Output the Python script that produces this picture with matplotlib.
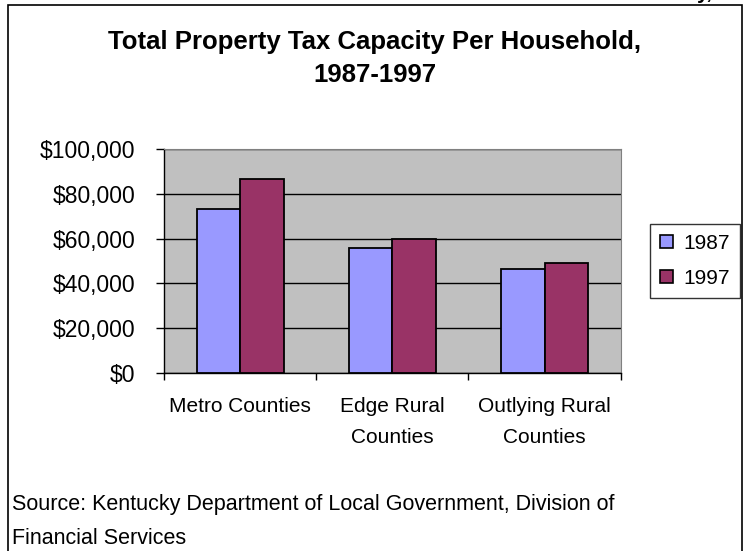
import matplotlib
matplotlib.use("Agg")
import matplotlib.pyplot as plt
from matplotlib.patches import Rectangle, Patch
import numpy as np

plt.rcParams['font.family'] = ['Liberation Sans', 'DejaVu Sans']

# data
categories = ["Metro Counties", "Edge Rural\nCounties", "Outlying Rural\nCounties"]
years = ["1987", "1997"]
val_1987 = [73000, 56000, 46300]
val_1997 = [86500, 59700, 49000]
yticks = [0, 20000, 40000, 60000, 80000, 100000]
ytick_labels = ["$0", "$20,000", "$40,000", "$60,000", "$80,000", "$100,000"]

col_1987 = "#9999FF"
col_1997 = "#993366"

W, H = 743, 551
fig = plt.figure(figsize=(W / 100, H / 100), dpi=100)

# outer chart border (bottom edge runs past the image)
fig.patches.append(Rectangle((8 / W, -0.05), (741.5 - 8) / W, 1.05 - 5 / H,
                             transform=fig.transFigure, fill=False,
                             edgecolor="black", lw=1.2, clip_on=False))
# clipped fragment of a caption above the chart
fig.text(697 / W, 1.0 + 1 / H, "y,", fontsize=15, fontweight="bold", va="baseline")

ax = fig.add_axes([164 / W, 1 - 373 / H, (620.7 - 164) / W, (373 - 149) / H])
ax.set_facecolor("#C0C0C0")

x = np.arange(len(categories))
bw = 0.2855
ax.bar(x - bw / 2, val_1987, bw, color=col_1987, edgecolor="black", lw=1.3, zorder=3)
ax.bar(x + bw / 2, val_1997, bw, color=col_1997, edgecolor="black", lw=1.3, zorder=3)

ax.set_xlim(-0.5, 2.5)
ax.set_ylim(0, 100000)
ax.set_yticks(yticks)
ax.set_yticklabels(ytick_labels, fontsize=16.5)
ax.yaxis.grid(True, color="black", lw=1.0, zorder=1)
ax.set_axisbelow(True)
ax.tick_params(axis="y", direction="out", length=5.5, width=1, pad=15)

ax.set_xticks(x)
ax.set_xticklabels(categories, fontsize=15, linespacing=1.8)
ax.set_xticks([-0.5, 0.5, 1.5, 2.5], minor=True)
ax.tick_params(axis="x", which="major", length=0, pad=17)
ax.tick_params(axis="x", which="minor", direction="out", length=5, width=1)

for s in ["top", "right"]:
    ax.spines[s].set_color("#808080")
for s in ["left", "bottom"]:
    ax.spines[s].set_color("black")
    ax.spines[s].set_linewidth(1)

# title (baseline of the last line)
fig.text(375 / W, 1 - 82 / H, "Total Property Tax Capacity Per Household,\n1987-1997",
         ha="center", va="baseline", fontsize=18.5, fontweight="bold", linespacing=1.5,
         multialignment="center")

# legend
handles = [Patch(facecolor=col_1987, edgecolor="black", lw=1.2),
           Patch(facecolor=col_1997, edgecolor="black", lw=1.2)]
leg = fig.legend(handles, years, loc="center", bbox_to_anchor=(695 / W, 1 - 261 / H),
                 bbox_transform=fig.transFigure, fontsize=15, frameon=True,
                 fancybox=False, edgecolor="black", handlelength=0.6, handleheight=0.6,
                 handletextpad=0.5, labelspacing=0.75, borderpad=0.5)
leg.get_frame().set_linewidth(1.0)

# source note (baseline of the last line)
fig.text(12 / W, 1 - 544 / H, "Source: Kentucky Department of Local Government, Division of\nFinancial Services",
         ha="left", va="baseline", fontsize=15.5, linespacing=1.79)

fig.savefig("out.png", dpi=100)
